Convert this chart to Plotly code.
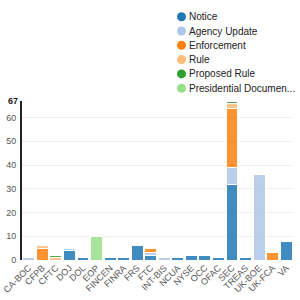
import plotly.graph_objects as go

categories = ["CA-BOC", "CFPB", "CFTC", "DOJ", "DOL", "EOP", "FINCEN", "FINRA", "FRS", "FTC",
              "INT-BIS", "NCUA", "NYSE", "OCC", "OFAC", "SEC", "TREAS", "UK-BOE", "UK-FCA", "VA"]
notice =        [0, 0, 0, 4, 1, 0, 1, 1, 6, 2, 0, 1, 2, 2, 1, 32, 1, 0, 0, 8]
agency_update = [1, 0, 0, 1, 0, 0, 0, 0, 0, 1, 1, 0, 0, 0, 0, 7, 0, 36, 0, 0]
enforcement =   [0, 5, 0, 0, 0, 0, 0, 0, 0, 2, 0, 0, 0, 0, 0, 25, 0, 0, 3, 0]
rule =          [0, 1, 1, 0, 0, 0, 0, 0, 0, 0, 0, 0, 0, 0, 0, 2, 0, 0, 0, 0]
proposed_rule = [0, 0, 1, 0, 0, 0, 0, 0, 0, 0, 0, 0, 0, 0, 0, 1, 0, 0, 0, 0]
presidential =  [0, 0, 0, 0, 0, 10, 0, 0, 0, 0, 0, 0, 0, 0, 0, 0, 0, 0, 0, 0]

series = [
    ("Notice", notice, "#1f77b4"),
    ("Agency Update", agency_update, "#aec7e8"),
    ("Enforcement", enforcement, "#ff7f0e"),
    ("Rule", rule, "#ffbb78"),
    ("Proposed Rule", proposed_rule, "#2ca02c"),
    ("Presidential Documen...", presidential, "#98df8a"),
]
y_max = 67

W, H = 300, 300
ML, MR, MT, MB = 22, 7, 101, 40
PW, PH = W - ML - MR, H - MT - MB

fig = go.Figure()
for name, vals, color in series:
    fig.add_trace(go.Bar(x=categories, y=vals, name=name, showlegend=False,
                         marker=dict(color=color, opacity=0.85,
                                     line=dict(color="white", width=1))))

# custom legend (circles + labels) placed in the top margin
def px_to_paper(px, py):
    return (px - ML) / PW, (H - MB - py) / PH

for i, (name, _, color) in enumerate(series):
    cy = 16.7 + 14.3 * i
    xp, yp = px_to_paper(181.5, cy)
    fig.add_shape(type="circle", xref="paper", yref="paper",
                  xsizemode="pixel", ysizemode="pixel", xanchor=xp, yanchor=yp,
                  x0=-4.5, x1=4.5, y0=-4.5, y1=4.5, fillcolor=color, line=dict(width=0))
    xt, yt = px_to_paper(187, cy)
    fig.add_annotation(x=xt, y=yt, xref="paper", yref="paper", text=name, showarrow=False,
                       xanchor="left", yanchor="middle",
                       font=dict(size=10, color="#222"))

fig.update_layout(
    barmode="stack",
    bargap=0.12,
    width=W, height=H,
    margin=dict(l=ML, r=MR, t=MT, b=MB, autoexpand=False),
    paper_bgcolor="white", plot_bgcolor="white",
    font=dict(family="Liberation Sans, Arial, sans-serif", size=10, color="#333"),
    showlegend=False,
)
fig.update_xaxes(tickangle=-45, tickfont=dict(size=9, color="#555"), showgrid=False,
                 showline=False, ticks="", tickmode="array", tickvals=categories)
fig.update_yaxes(range=[0, y_max], tickvals=[0, 10, 20, 30, 40, 50, 60],
                 tickfont=dict(size=9, color="#555"), showgrid=True, gridcolor="#eeeeee",
                 showline=True, linecolor="#222", linewidth=2, zeroline=False, ticks="",
                 ticklabelstandoff=2)
fig.add_annotation(x=0, y=y_max, xref="paper", yref="y", text="<b>67</b>", showarrow=False,
                   xanchor="right", yanchor="middle", xshift=-2,
                   font=dict(size=9, color="#222"))

fig.write_html("out.html")
